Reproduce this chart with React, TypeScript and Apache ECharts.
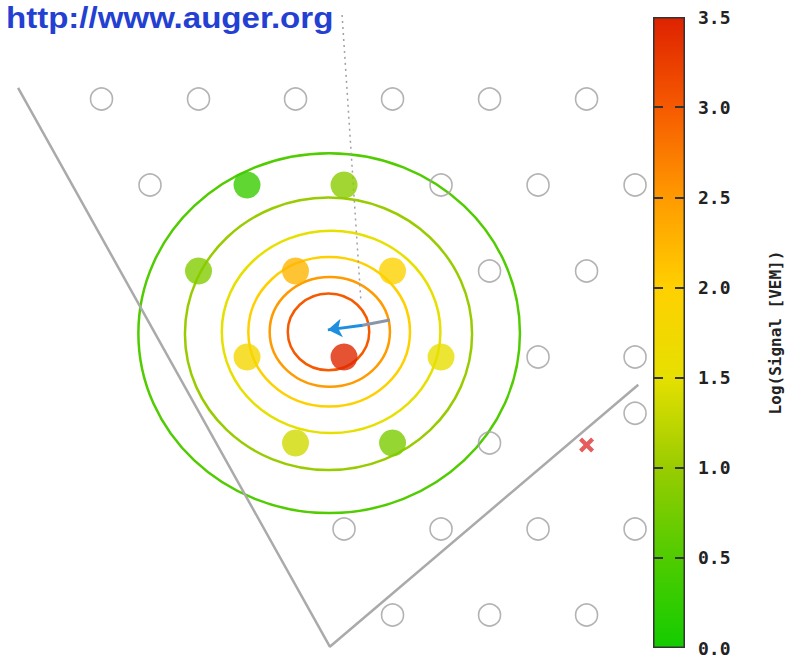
import React, { useEffect, useRef } from "react";
import * as echarts from "echarts";

// Station positions in km (triangular 1.5 km grid), shower core near origin
const HOLLOW_STATIONS: [number, number][] = [
  [-3.75, 3.9], [-2.25, 3.9], [-0.75, 3.9], [0.75, 3.9], [2.25, 3.9], [3.75, 3.9],
  [-3.0, 2.6], [1.5, 2.6], [3.0, 2.6], [4.5, 2.6],
  [2.25, 1.3], [3.75, 1.3],
  [3.0, 0], [4.5, 0],
  [2.25, -1.3], [4.5, -0.85],
  [0, -2.6], [1.5, -2.6], [3.0, -2.6], [4.5, -2.6],
  [0.75, -3.9], [2.25, -3.9], [3.75, -3.9],
];

// Triggered stations: x, y, log10(signal [VEM])
const HIT_X = [-1.5, 0, -2.25, -0.75, 0.75, -1.5, 0, 1.5, -0.75, 0.75];
const HIT_Y = [2.6, 2.6, 1.3, 1.3, 1.3, 0, 0, 0, -1.3, -1.3];
const HIT_SIGNAL = [0.3, 0.9, 0.85, 2.25, 1.95, 1.8, 3.45, 1.55, 1.35, 0.8];

// Station marked as bad (red cross)
const BAD_STATIONS: [number, number][] = [[3.75, -1.33]];

// Lateral distribution contours: level, centre, radii (km)
const CONTOUR_LEVELS = [0.5, 1.0, 1.5, 2.0, 2.5, 3.0];
const CONTOUR_CX = [-0.23, -0.24, -0.2, -0.23, -0.22, -0.24];
const CONTOUR_CY = [0.36, 0.35, 0.38, 0.38, 0.38, 0.38];
const CONTOUR_RX = [2.95, 2.22, 1.69, 1.25, 0.93, 0.63];
const CONTOUR_RY = [2.72, 2.06, 1.53, 1.13, 0.83, 0.58];

// Array border (gray polyline)
const BORDER: [number, number][] = [[-5.04, 4.07], [-0.22, -4.38], [4.55, -0.42]];
// Shower axis projection (dotted)
const AXIS_LINE: [number, number][] = [[-0.03, 5.17], [0.26, 0.86]];
// Arrow (gray tail + blue head)
const ARROW_TAIL: [number, number][] = [[0.71, 0.56], [0.29, 0.48]];
const ARROW_HEAD: [number, number][] = [[0.29, 0.48], [-0.25, 0.41]];

// Colour scale
const SCALE_MIN = 0;
const SCALE_MAX = 3.5;
const SCALE_STEP = 0.5;
const SCALE_COLORS = ["#14cc00", "#50cc00", "#99cc00", "#e6e000", "#ffd000", "#ff9a00", "#f65a00", "#de2200"];

export default function App() {
  const ref = useRef<HTMLDivElement>(null);
  useEffect(() => {
    if (!ref.current) return;
    const chart = echarts.init(ref.current, null, { renderer: "svg" });
    const hitData = HIT_X.map((x, i) => [x, HIT_Y[i], HIT_SIGNAL[i]]);
    const contourData = CONTOUR_LEVELS.map((lv, i) => [CONTOUR_CX[i], CONTOUR_CY[i], lv, CONTOUR_RX[i], CONTOUR_RY[i]]);
    const stops = SCALE_COLORS.map((c, i) => ({ offset: i / (SCALE_COLORS.length - 1), color: c }));
    const option: any = {
      animation: false,
      backgroundColor: "#ffffff",
      graphic: [
        {
          type: "text",
          x: 6,
          y: 4,
          scaleX: 1.14,
          style: {
            text: "http://www.auger.org",
            font: 'bold 29px "Liberation Sans", Arial, sans-serif',
            fill: "#2440d2",
            verticalAlign: "top",
          },
        },
      ],
      grid: [
        { left: 4.5, top: 26.25, width: 662.9, height: 628.4 },
        { left: 653, top: 17, width: 32, height: 631 },
      ],
      xAxis: [
        { gridIndex: 0, type: "value", min: -5.25, max: 5, show: false },
        { gridIndex: 1, type: "category", data: ["scale"], show: false },
      ],
      yAxis: [
        { gridIndex: 0, type: "value", min: -4.5, max: 5, show: false },
        {
          gridIndex: 1,
          type: "value",
          min: SCALE_MIN,
          max: SCALE_MAX,
          interval: SCALE_STEP,
          position: "right",
          z: 10,
          axisLine: { show: false },
          axisTick: { show: false },
          splitLine: {
            show: true,
            showMinLine: false,
            showMaxLine: false,
            lineStyle: { color: "#333", width: 2, type: [10, 12] },
          },
          axisLabel: {
            margin: 13,
            fontFamily: '"DejaVu Sans Mono", monospace',
            fontWeight: "bold",
            fontSize: 18,
            color: "#222",
            formatter: (v: number) => v.toFixed(1),
          },
          name: "Log(Signal [VEM])",
          nameLocation: "middle",
          nameRotate: 90,
          nameGap: 82,
          nameTextStyle: {
            fontFamily: '"DejaVu Sans Mono", monospace',
            fontWeight: "bold",
            fontSize: 16,
            color: "#222",
          },
        },
      ],
      visualMap: [
        {
          type: "continuous",
          show: false,
          min: SCALE_MIN,
          max: SCALE_MAX,
          dimension: 2,
          seriesIndex: [0, 6],
          inRange: { color: SCALE_COLORS },
        },
      ],
      series: [
        {
          type: "custom",
          xAxisIndex: 0,
          yAxisIndex: 0,
          clip: false,
          z: 1,
          encode: { x: 0, y: 1 },
          data: contourData,
          renderItem: (params: any, api: any) => {
            const c = api.coord([api.value(0), api.value(1)]);
            const rx = api.size([api.value(3), 0])[0];
            const ry = api.size([0, api.value(4)])[1];
            return {
              type: "ellipse",
              shape: { cx: c[0], cy: c[1], rx, ry },
              style: { fill: "none", stroke: api.visual("color"), lineWidth: 2.5 },
            };
          },
        },
        {
          type: "line",
          data: BORDER,
          symbol: "none",
          z: 2,
          lineStyle: { color: "#aaaaaa", width: 2.5 },
        },
        {
          type: "line",
          data: AXIS_LINE,
          symbol: "none",
          clip: false,
          z: 2,
          lineStyle: { color: "#a0a0a0", width: 1.5, type: [2, 4] },
        },
        {
          type: "line",
          data: ARROW_TAIL,
          symbol: "none",
          z: 3,
          lineStyle: { color: "#8a96a8", width: 3 },
        },
        {
          type: "line",
          data: [],
          z: 3,
          markLine: {
            silent: true,
            symbol: ["none", "arrow"],
            symbolSize: 14,
            label: { show: false },
            lineStyle: { color: "#1e8fe0", width: 3, type: "solid" },
            data: [[{ coord: ARROW_HEAD[0] }, { coord: ARROW_HEAD[1] }]],
          },
        },
        {
          type: "scatter",
          data: HOLLOW_STATIONS,
          symbol: "circle",
          symbolSize: 22,
          z: 4,
          itemStyle: { color: "rgba(255,255,255,0)", borderColor: "#a0a0a0", borderWidth: 1.6 },
        },
        {
          type: "scatter",
          data: hitData,
          symbol: "circle",
          symbolSize: 27,
          z: 5,
        },
        {
          type: "scatter",
          data: BAD_STATIONS,
          symbol: "path://M2,0 L5,3 L8,0 L10,2 L7,5 L10,8 L8,10 L5,7 L2,10 L0,8 L3,5 L0,2 Z",
          symbolSize: 15,
          z: 5,
          itemStyle: { color: "#dd3333" },
        },
        {
          type: "bar",
          xAxisIndex: 1,
          yAxisIndex: 1,
          data: [SCALE_MAX],
          barWidth: "100%",
          z: 2,
          itemStyle: {
            color: new echarts.graphic.LinearGradient(0, 1, 0, 0, stops),
            borderColor: "#333",
            borderWidth: 1.5,
          },
        },
      ],
    };
    chart.setOption(option);
    return () => chart.dispose();
  }, []);
  return (
    <div
      ref={ref}
      style={{ position: "absolute", left: 0, top: 0, width: 787, height: 659, background: "#fff" }}
    />
  );
}
